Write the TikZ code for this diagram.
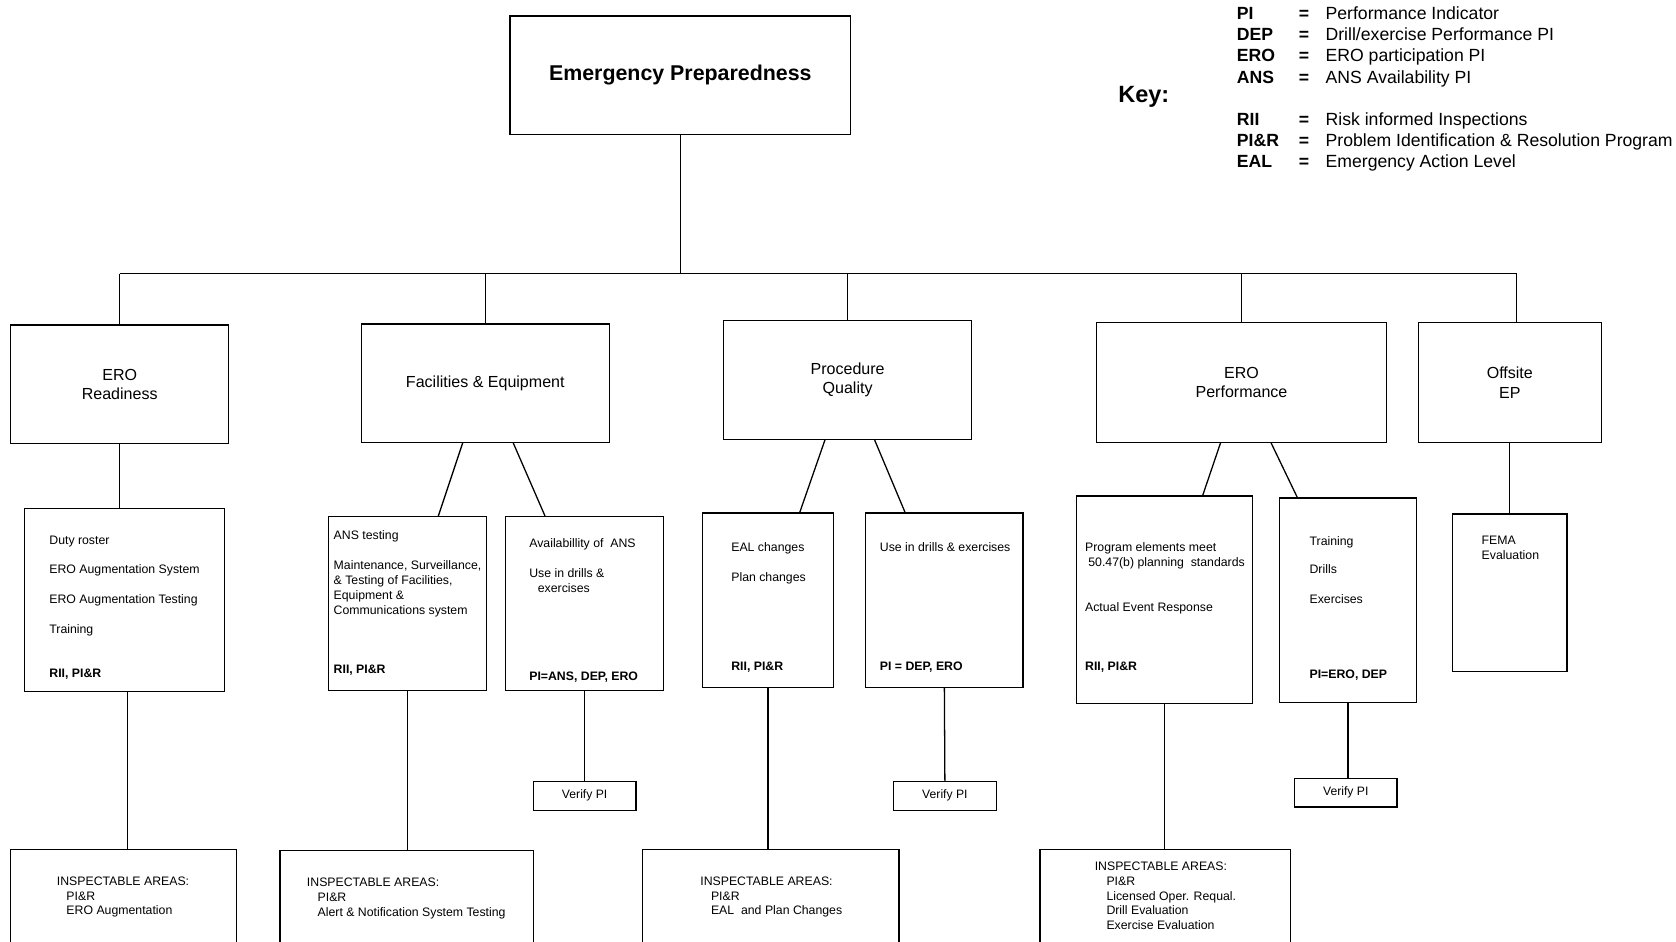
\documentclass[tikz,border=0pt]{standalone}
\usepackage{fontspec}
\setmainfont{Liberation Sans}
\tikzset{
  box/.style={draw, line width=1.2pt, inner sep=0pt, outer sep=0pt, align=center, font=\fontsize{15}{18}\selectfont},
  conn/.style={line width=1.2pt},
  sm/.style={anchor=base west, inner sep=0pt, font=\fontsize{11.5}{14}\selectfont},
  smb/.style={anchor=base west, inner sep=0pt, font=\fontsize{11.5}{14}\selectfont\bfseries},
  keyn/.style={anchor=base west, inner sep=0pt, font=\fontsize{16.5}{20}\selectfont},
  keyb/.style={anchor=base west, inner sep=0pt, font=\fontsize{16.5}{20}\selectfont\bfseries},
}
% \bx[opts]{name}{x1}{y1}{x2}{y2}{text}
\newcommand{\bx}[7][]{\node[box,minimum width={#5pt-#3pt},minimum height={#6pt-#4pt},#1] (#2) at ({(#3+#5)/2},{(#4+#6)/2}) {#7};}
% \tl[style]{name}{x}{baseline}{text}
\newcommand{\tl}[5][sm]{\node[#1] (#2) at (#3,#4) {#5};}
\begin{document}
\begin{tikzpicture}[x=1pt,y=-1pt]
\useasboundingbox (0,0) rectangle (1568,881);

% top
\bx[font=\fontsize{20}{24}\selectfont\bfseries]{top}{477}{15}{796}{126}{\raisebox{-2pt}{Emergency Preparedness}}

% level 1
\bx{eroR}{10}{304}{214}{415}{ERO\\Readiness}
\bx{fac}{338}{303}{570}{414}{Facilities \& Equipment}
\bx{proc}{677}{300}{909}{411}{Procedure\\Quality}
\bx{perf}{1026}{302}{1297}{414}{ERO\\Performance}
\bx{off}{1327}{302}{1498}{414}{Offsite\\EP}

% level 2
\bx{e1}{23}{476}{210}{647}{}
\bx{f1}{307}{483}{455}{646}{}
\bx{f2}{473}{483}{621}{646}{}
\bx{p1}{657}{480}{780}{643}{}
\bx{p2}{810}{480}{957}{643}{}
\bx{r1}{1007}{464}{1172}{658}{}
\bx{r2}{1197}{466}{1325}{657}{}
\bx{o1}{1359}{481}{1466}{628}{}

% verify boxes
\bx[font=\fontsize{11.4}{14}\selectfont]{v1}{499}{731}{595}{758}{Verify PI}
\bx[font=\fontsize{11.4}{14}\selectfont]{v2}{836}{731}{932}{758}{Verify PI}
\bx[font=\fontsize{11.4}{14}\selectfont]{v3}{1211}{728}{1307}{755}{Verify PI}

% inspectable boxes
\bx{i1}{10}{795}{221}{900}{}
\bx{i2}{262}{796}{499}{900}{}
\bx{i3}{601}{795}{841}{900}{}
\bx{i4}{973}{795}{1207}{900}{}

% connectors
\coordinate (busL) at (112,256);
\coordinate (busR) at (1419,256);
\draw[conn] (top.south) -- (top.south |- busL);
\draw[conn] (busL) -- (busR);
\draw[conn] (busL) -- (busL |- eroR.north);
\draw[conn] (fac.north |- busL) -- (fac.north);
\draw[conn] (proc.north |- busL) -- (proc.north);
\draw[conn] (perf.north |- busL) -- (perf.north);
\draw[conn] (busR) -- (busR |- off.north);

\draw[conn] (eroR.south) -- (eroR.south |- e1.north);
\draw[conn] ([xshift=-21pt]fac.south) -- ([xshift=29pt]f1.north);
\draw[conn] ([xshift=26pt]fac.south) -- ([xshift=-37pt]f2.north);
\draw[conn] ([xshift=-21pt]proc.south) -- ([xshift=29.5pt]p1.north);
\draw[conn] ([xshift=25pt]proc.south) -- ([xshift=-36.5pt]p2.north);
\draw[conn] ([xshift=-19.5pt]perf.south) -- ([xshift=35.5pt]r1.north);
\draw[conn] ([xshift=27.5pt]perf.south) -- ([xshift=-47pt]r2.north);
\draw[conn] (off.south) -- (off.south |- o1.north);

\coordinate (e1d) at ([xshift=2.5pt]e1.south);
\draw[conn] (e1d) -- (e1d |- i1.north);
\draw[conn] (f1.south) -- (f1.south |- i2.north);
\draw[conn] (f2.south) -- (v1.north);
\draw[conn] (p1.south) -- (p1.south |- i3.north);
\draw[conn] (p2.south) -- (v2.north);
\draw[conn] (r1.south) -- (r1.south |- i4.north);
\draw[conn] (r2.south) -- (r2.south |- v3.north);

% texts e1
\tl{e1a}{46}{509}{Duty roster}
\tl{e1b}{46}{537}{ERO Augmentation System}
\tl{e1c}{46}{565}{ERO Augmentation Testing}
\tl{e1d}{46}{593}{Training}
\tl[smb]{e1e}{46}{634}{RII, PI\&R}

% f1
\tl{f1a}{312}{505}{ANS testing}
\tl{f1b}{312}{533}{Maintenance, Surveillance,}
\tl{f1c}{312}{547}{\& Testing of Facilities,}
\tl{f1d}{312}{561}{Equipment \&}
\tl{f1e}{312}{575}{Communications system}
\tl[smb]{f1f}{312}{630}{RII, PI\&R}

% f2
\tl{f2a}{495}{512}{Availabillity of\ \ ANS}
\tl{f2b}{495}{540}{Use in drills \&}
\tl{f2c}{503}{554}{exercises}
\tl[smb]{f2d}{495}{637}{PI=ANS, DEP, ERO}

% p1
\tl{p1a}{684}{516}{EAL changes}
\tl{p1b}{684}{544}{Plan changes}
\tl[smb]{p1c}{684}{627}{RII, PI\&R}

% p2
\tl{p2a}{823}{516}{Use in drills \& exercises}
\tl[smb]{p2b}{823}{627}{PI = DEP, ERO}

% r1
\tl{r1a}{1015}{516}{Program elements meet}
\tl{r1b}{1018}{530}{50.47(b) planning\ \ standards}
\tl{r1c}{1015}{572}{Actual Event Response}
\tl[smb]{r1d}{1015}{627}{RII, PI\&R}

% r2
\tl{r2a}{1225}{510}{Training}
\tl{r2b}{1225}{537}{Drills}
\tl{r2c}{1225}{565}{Exercises}
\tl[smb]{r2d}{1225}{635}{PI=ERO, DEP}

% o1
\tl{o1a}{1386}{509}{FEMA}
\tl{o1b}{1386}{523}{Evaluation}

% inspectable
\tl{i1a}{53}{828}{INSPECTABLE AREAS:}
\tl{i1b}{62}{842}{PI\&R}
\tl{i1c}{62}{856}{ERO Augmentation}

\tl{i2a}{287}{829}{INSPECTABLE AREAS:}
\tl{i2b}{297}{843}{PI\&R}
\tl{i2c}{297}{857}{Alert \& Notification System Testing}

\tl{i3a}{655}{828}{INSPECTABLE AREAS:}
\tl{i3b}{665}{842}{PI\&R}
\tl{i3c}{665}{856}{EAL\ \ and Plan Changes}

\tl{i4a}{1024}{814}{INSPECTABLE AREAS:}
\tl{i4b}{1035}{828}{PI\&R}
\tl{i4c}{1035}{842}{Licensed Oper. Requal.}
\tl{i4d}{1035}{856}{Drill Evaluation}
\tl{i4e}{1035}{870}{Exercise Evaluation}

% key
\node[anchor=base west, inner sep=0pt, font=\fontsize{22}{26}\selectfont\bfseries] (keyt) at (1046,96) {Key:};
\tl[keyb]{ka1}{1157}{18}{PI}
\tl[keyb]{ka2}{1157}{38}{DEP}
\tl[keyb]{ka3}{1157}{58}{ERO}
\tl[keyb]{ka4}{1157}{78}{ANS}
\tl[keyb]{ka5}{1157}{117}{RII}
\tl[keyb]{ka6}{1157}{137}{PI\&R}
\tl[keyb]{ka7}{1157}{157}{EAL}
\foreach \y [count=\i] in {18,38,58,78,117,137,157} {
  \node[keyb] (keq\i) at (1215,\y) {=};
}
\tl[keyn]{kd1}{1240}{18}{Performance Indicator}
\tl[keyn]{kd2}{1240}{38}{Drill/exercise Performance PI}
\tl[keyn]{kd3}{1240}{58}{ERO participation PI}
\tl[keyn]{kd4}{1240}{78}{ANS Availability PI}
\tl[keyn]{kd5}{1240}{117}{Risk informed Inspections}
\tl[keyn]{kd6}{1240}{137}{Problem Identification \& Resolution Program}
\tl[keyn]{kd7}{1240}{157}{Emergency Action Level}
\end{tikzpicture}
\end{document}
